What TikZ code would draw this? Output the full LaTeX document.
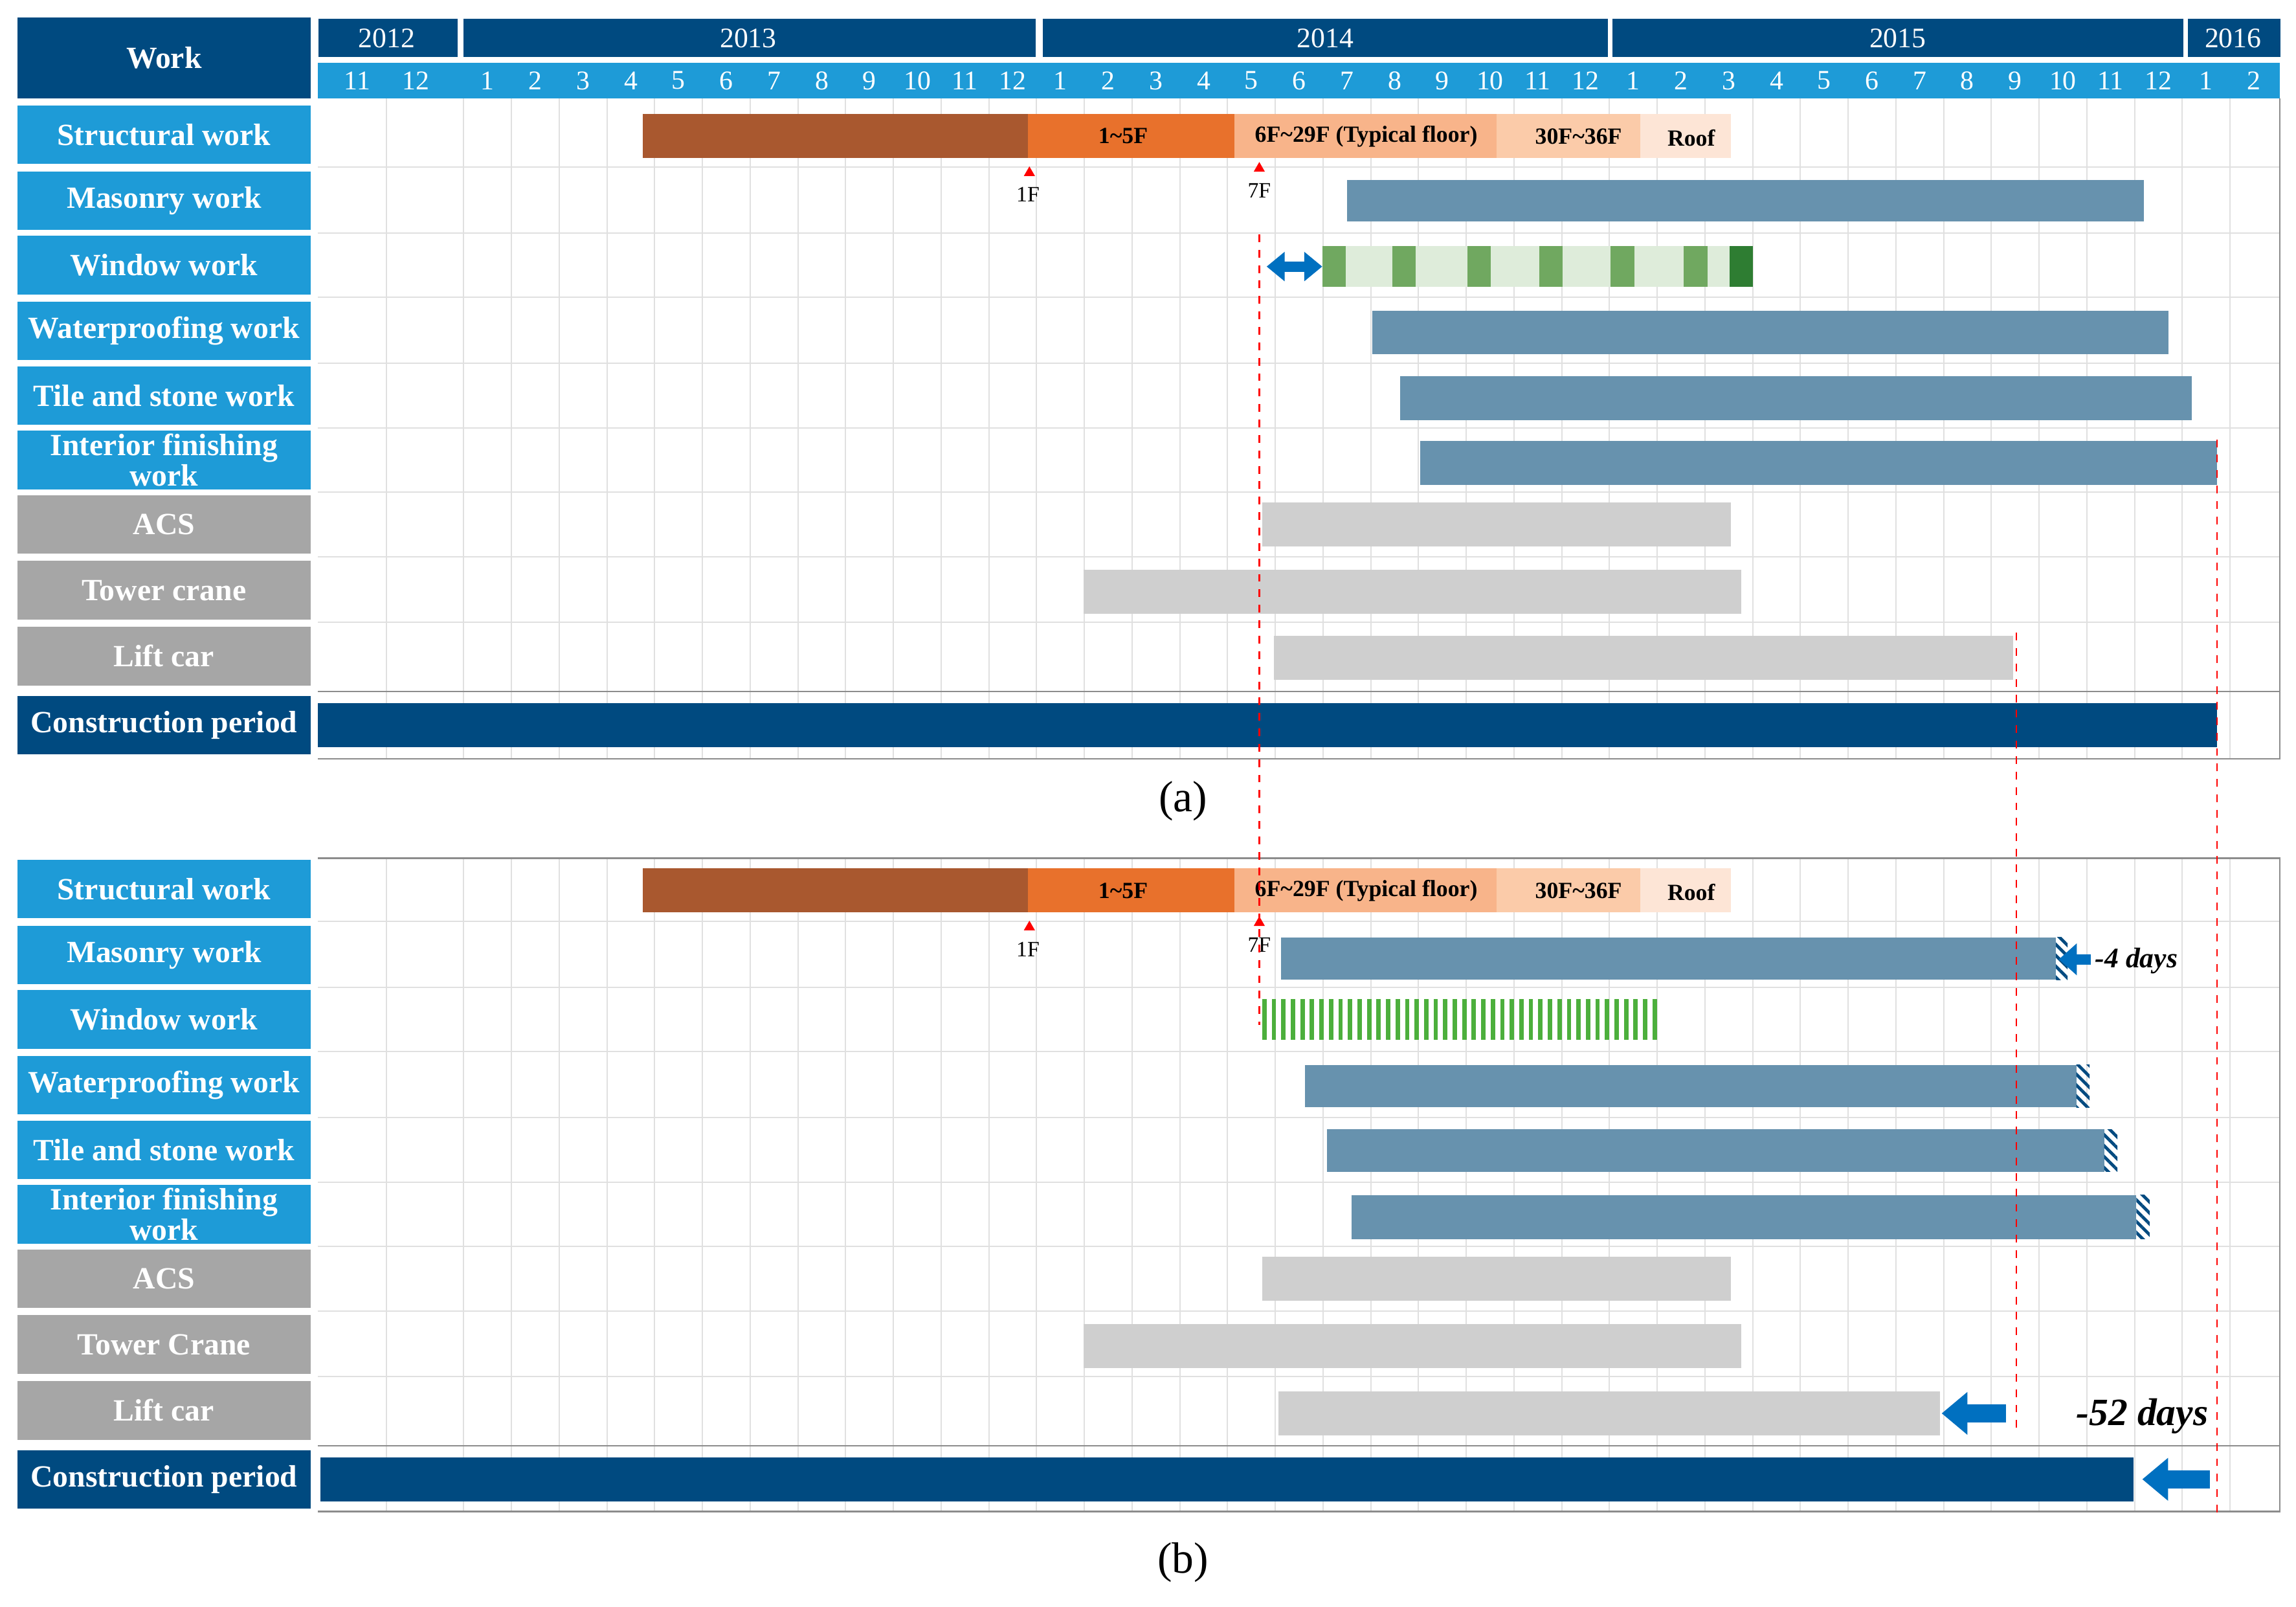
\documentclass[tikz,border=0pt]{standalone}
\usepackage{fontspec}
\setmainfont{Liberation Serif}
\usetikzlibrary{patterns.meta,arrows.meta,shapes.geometric}
\definecolor{dblue}{RGB}{0,74,128}
\definecolor{lblue}{RGB}{30,155,215}
\definecolor{gbox}{RGB}{166,166,166}
\definecolor{steel}{RGB}{103,146,174}
\definecolor{gbar}{RGB}{207,207,207}
\definecolor{brn}{RGB}{169,88,47}
\definecolor{org}{RGB}{232,113,44}
\definecolor{lo1}{RGB}{248,180,138}
\definecolor{lo2}{RGB}{251,203,169}
\definecolor{lo3}{RGB}{253,229,214}
\definecolor{arr}{RGB}{0,112,192}
\definecolor{gL}{RGB}{222,236,218}
\definecolor{gM}{RGB}{112,168,96}
\definecolor{gD}{RGB}{46,125,50}
\definecolor{gS}{RGB}{76,175,60}
\tikzset{
 lab/.style={minimum width=4cm,minimum height=0.8cm,inner sep=0pt,text=white,font=\bfseries\fontsize{12}{12}\selectfont,align=center},
 blab/.style={lab,fill=lblue},
 glab/.style={lab,fill=gbox},
 mon/.style={text=white,font=\fontsize{10.5}{11}\selectfont,inner sep=0pt},
 yr/.style={fill=dblue,text=white,font=\fontsize{11}{12}\selectfont,inner sep=0pt,anchor=west},
 grid/.style={draw=black!12,line width=0.5pt},
 rdash/.style={red,dashed,line width=0.6pt},
 bt/.style={font=\bfseries\fontsize{9}{10}\selectfont,inner sep=0pt},
 tri/.style={fill=red,draw=none,regular polygon,regular polygon sides=3,minimum size=5pt,inner sep=0pt},
 fl/.style={font=\fontsize{8.5}{9}\selectfont,inner sep=0pt},
 bigarr/.style={arr,line width=7pt,-{Triangle[length=10pt,width=16pt]}},
 hatch/.style={pattern={Lines[angle=-45,distance=3pt,line width=1.2pt]},pattern color=dblue},
}
\begin{document}
\begin{tikzpicture}[x=0.02cm,y=-0.02cm]
\useasboundingbox (0,0) rectangle (1568,1097);
\fill[white] (0,0) rectangle (1568,1097);
% header
\node[fill=dblue,minimum width=4cm,minimum height=1.1cm,inner sep=0pt,text=white,font=\bfseries\fontsize{12}{12}\selectfont] (work) at (112,39.5) {Work};
\node[yr,minimum width=1.9cm,minimum height=0.52cm] (y12) at (217,26) {};\node[text=white,font=\fontsize{11}{12}\selectfont] at (264,26) {2012};
\node[yr,minimum width=7.82cm,minimum height=0.52cm] (y13) at (316,26) {};\node[text=white,font=\fontsize{11}{12}\selectfont] at (511,26) {2013};
\node[yr,minimum width=7.72cm,minimum height=0.52cm] (y14) at (712,26) {};\node[text=white,font=\fontsize{11}{12}\selectfont] at (905,26) {2014};
\node[yr,minimum width=7.8cm,minimum height=0.52cm] (y15) at (1101,26) {};\node[text=white,font=\fontsize{11}{12}\selectfont] at (1296,26) {2015};
\node[yr,minimum width=1.26cm,minimum height=0.52cm] (y16) at (1494,26) {};\node[text=white,font=\fontsize{11}{12}\selectfont] at (1525,26) {2016};
\fill[lblue] (217,43) rectangle (1557,67);
\node[mon] at (244,55) {11};\node[mon] at (284,55) {12};
\foreach \m in {0,...,37}{\pgfmathtruncatemacro\lab{mod(\m,12)+1}\node[mon] at ({333+32.6*\m},55) {\lab};}
% grids for both panels
\foreach \top/\bot in {67/518,586/1032}{
 \draw[grid] (264,\top) -- (264,\bot);
 \foreach \m in {0,...,37}{\draw[grid] ({316.7+32.6*\m},\top) -- ({316.7+32.6*\m},\bot);}
}
\foreach \o in {0,515}{
 \foreach \yy in {114,159,203,248,292,336,380,425}{\draw[grid] (217,\yy+\o) -- (1557,\yy+\o);}
 \draw[black!45,line width=0.6pt] (217,472+\o) -- (1557,472+\o);
}
\draw[black!45,line width=0.6pt] (1557,67) -- (1557,518) -- (217,518);
\draw[black!45,line width=0.6pt] (217,586) -- (1557,586) -- (1557,1032) -- (217,1032);
% labels
\foreach \o/\p/\tc in {0/a/crane,515/b/Crane}{
 \node[blab] (s\p) at (112,92+\o) {Structural work};
 \node[blab] (m\p) at (112,137+\o) {Masonry work};
 \node[blab] (w\p) at (112,181+\o) {Window work};
 \node[blab] (wp\p) at (112,226+\o) {Waterproofing work};
 \node[blab] (t\p) at (112,270+\o) {Tile and stone work};
 \node[blab,font=\bfseries\fontsize{12}{10}\selectfont] (i\p) at (112,314+\o) {Interior finishing\\work};
 \node[glab] (a\p) at (112,358+\o) {ACS};
 \node[glab] (tc\p) at (112,403+\o) {Tower \tc};
 \node[glab] (l\p) at (112,448+\o) {Lift car};
 \node[lab,fill=dblue] (c\p) at (112,495+\o) {Construction period};
 \fill[brn] (439,78+\o) rectangle (702,108+\o);
 \fill[org] (702,78+\o) rectangle (843,108+\o);
 \fill[lo1] (843,78+\o) rectangle (1022,108+\o);
 \fill[lo2] (1022,78+\o) rectangle (1120,108+\o);
 \fill[lo3] (1120,78+\o) rectangle (1182,108+\o);
 \node[bt] at (767,93+\o) {1\textasciitilde5F};
 \node[bt] at (933,93+\o) {6F\textasciitilde29F (Typical floor)};
 \node[bt] at (1078,93+\o) {30F\textasciitilde36F};
 \node[bt] at (1155,94+\o) {Roof};
 \node[tri] at (703,118+\o) {};\node[fl] at (702,133+\o) {1F};
 \node[tri] at (860,115+\o) {};\node[fl] at (860,130+\o) {7F};
 \fill[gbar] (862,343+\o) rectangle (1182,373+\o);
 \fill[gbar] (740,389+\o) rectangle (1189,419+\o);
}
% (a) bars
\fill[steel] (920,123) rectangle (1464,151);
\fill[gL] (903,168) rectangle (1197,196);
\foreach \xx in {903,951,1002,1051,1100,1150}{\fill[gM] (\xx,168) rectangle (\xx+16,196);}
\fill[gD] (1181,168) rectangle (1197,196);
\draw[arr,line width=4pt,{Triangle[length=7pt,width=11pt]}-{Triangle[length=7pt,width=11pt]}] (865,182) -- (903,182);
\fill[steel] (937,212) rectangle (1481,242);
\fill[steel] (956,257) rectangle (1497,287);
\fill[steel] (970,301) rectangle (1514,331);
\fill[gbar] (870,434) rectangle (1375,464);
\fill[dblue] (217,480) rectangle (1514,510);
\node[font=\fontsize{17}{18}\selectfont] (capa) at (808,547) {(a)};
% (b) bars
\fill[steel] (875,640) rectangle (1404,669);
\fill[hatch] (1404,640) rectangle (1412,669);
\draw[arr,line width=4pt,-{Triangle[length=7pt,width=12pt]}] (1428,655) -- (1406,655);
\node[font=\bfseries\itshape\fontsize{11}{12}\selectfont] at (1459,656) {-4 days};
\foreach \k in {0,...,41}{\fill[gS] ({862+6.5*\k},682) rectangle ({865+6.5*\k},710);}
\fill[steel] (891,727) rectangle (1418,756);
\fill[hatch] (1418,727) rectangle (1427,756);
\fill[steel] (906,771) rectangle (1437,800);
\fill[hatch] (1437,771) rectangle (1446,800);
\fill[steel] (923,816) rectangle (1459,846);
\fill[hatch] (1459,816) rectangle (1468,846);
\fill[gbar] (873,950) rectangle (1325,980);
\draw[bigarr] (1370,965) -- (1326,965);
\node[font=\bfseries\itshape\fontsize{15}{16}\selectfont] at (1463,967) {-52 days};
\fill[dblue] (219,995) rectangle (1457,1025);
\draw[bigarr] (1509,1010) -- (1463,1010);
\node[font=\fontsize{17}{18}\selectfont] (capb) at (808,1067) {(b)};
\draw[rdash] (860,160) -- (860,700);
\draw[rdash] (1514,300) -- (1514,1035);
\draw[rdash] (1377,432) -- (1377,978);
\end{tikzpicture}
\end{document}
